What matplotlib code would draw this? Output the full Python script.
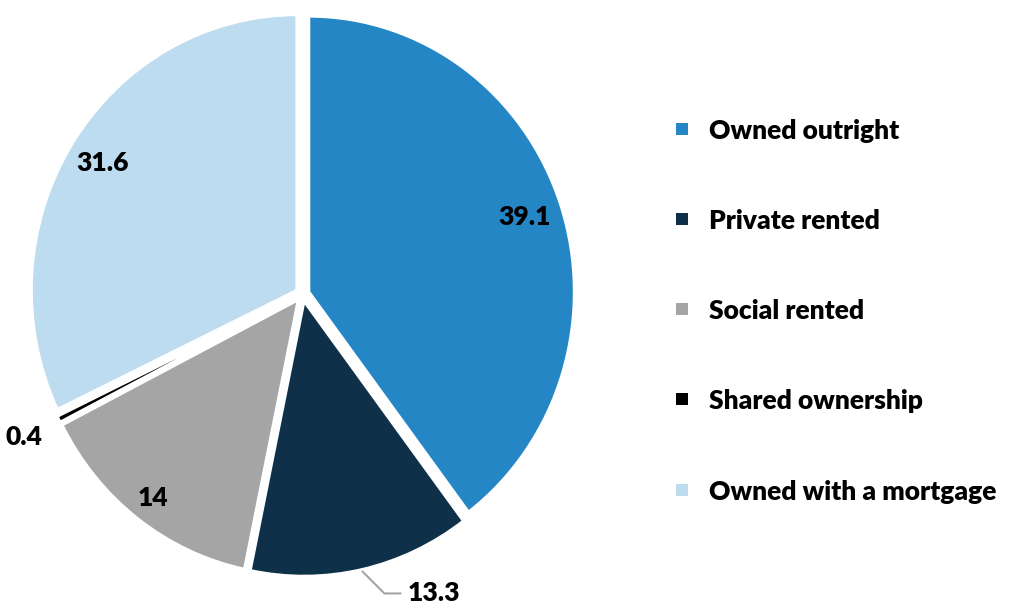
import matplotlib
matplotlib.use("Agg")
import matplotlib.pyplot as plt
import numpy as np
from matplotlib.patches import Rectangle

categories = ["Owned outright", "Private rented", "Social rented",
              "Shared ownership", "Owned with a mortgage"]
values = [39.1, 13.3, 14, 0.4, 31.6]
value_labels = ["39.1", "13.3", "14", "0.4", "31.6"]
colors = ["#2586C6", "#0F3049", "#A5A5A5", "#000000", "#BDDCF0"]

plt.rcParams['font.family'] = ['Lato', 'DejaVu Sans']
FS = 19
FW = 'heavy'

W, H = 1014, 601
fig = plt.figure(figsize=(W / 100, H / 100), dpi=100)
ax = fig.add_axes([0, 0, 1, 1])

wedges, _ = ax.pie(values, colors=colors, startangle=90, counterclock=False,
                   explode=[0.024] * len(values),
                   wedgeprops=dict(edgecolor="white", linewidth=2.5))

# pixel geometry of the pie
cx, cy, rx, ry = 302.5, 294.0, 266.0, 276.0
ax.set_aspect('auto')
ax.set_xlim(-cx / rx, (W - cx) / rx)
ax.set_ylim(-(H - cy) / ry, cy / ry)
ax.axis('off')

# label radii (fraction of radius) for each slice
label_r = [0.88, None, 0.93, 1.17, 0.89]
for w, lab, r in zip(wedges, value_labels, label_r):
    mid = np.deg2rad((w.theta1 + w.theta2) / 2)
    if r is None:
        # leader-line label
        x0, y0 = 1.03 * np.cos(mid), 1.03 * np.sin(mid)
        ax.annotate(lab, xy=(x0, y0), xytext=(0.395, -1.085),
                    ha='left', va='center', fontsize=FS, fontweight=FW,
                    color='black',
                    arrowprops=dict(arrowstyle='-', color='#A5A5A5', lw=1.5,
                                    shrinkA=3, shrinkB=0,
                                    connectionstyle='angle,angleA=0,angleB=-45,rad=0'))
    else:
        ax.text(r * np.cos(mid), r * np.sin(mid), lab, ha='center', va='center',
                fontsize=FS, fontweight=FW, color='black')

# legend (manual)
row_y = [131, 221, 311, 401, 492]
for cat, col, y in zip(categories, colors, row_y):
    fig.patches.append(Rectangle(((676) / W, 1 - (y + 4) / H), 12 / W, 12 / H,
                                 transform=fig.transFigure, facecolor=col,
                                 edgecolor='none'))
    fig.text(709 / W, 1 - y / H, cat, ha='left', va='center',
             fontsize=FS, fontweight=FW, color='black')

fig.savefig("out.png", dpi=100)
